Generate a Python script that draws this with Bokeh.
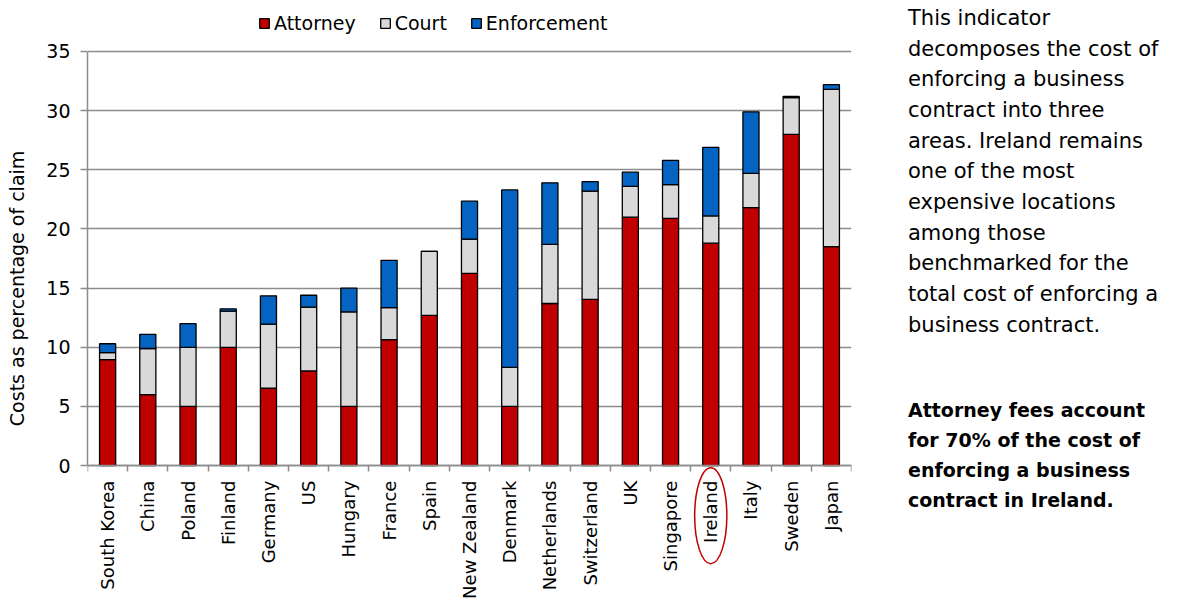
import numpy as np
from bokeh.plotting import figure
from bokeh.models import ColumnDataSource, Legend, LegendItem, Range1d, FixedTicker, Div
from bokeh.layouts import row
from bokeh.embed import file_html
from bokeh.resources import INLINE

countries = ["South Korea", "China", "Poland", "Finland", "Germany", "US", "Hungary", "France",
             "Spain", "New Zealand", "Denmark", "Netherlands", "Switzerland", "UK", "Singapore",
             "Ireland", "Italy", "Sweden", "Japan"]
attorney = [8.95, 6.0, 5.0, 10.0, 6.55, 8.0, 5.0, 10.65, 12.7, 16.25, 5.0, 13.7, 14.05, 21.0,
            20.9, 18.8, 21.8, 28.0, 18.5]
court = [0.6, 3.9, 5.0, 3.05, 5.4, 5.4, 8.0, 2.7, 5.4, 2.9, 3.3, 5.0, 9.15, 2.6, 2.85, 2.3,
         2.9, 3.1, 13.3]
enforcement = [0.75, 1.2, 2.0, 0.2, 2.4, 1.0, 2.0, 4.0, 0.0, 3.2, 15.0, 5.2, 0.8, 1.2, 2.05,
               5.8, 5.2, 0.1, 0.4]
series = ["Attorney", "Court", "Enforcement"]
colors = ["#C00000", "#D9D9D9", "#0563C1"]
y_ticks = [0, 5, 10, 15, 20, 25, 30, 35]
y_title = "Costs as percentage of claim"
highlight = "Ireland"

FONT = "DejaVu Sans"
GRAY = "#8c8c8c"

n = len(countries)
centers = [i + 0.5 for i in range(n)]      # category slot centres on the x scale
bounds = [float(i) for i in range(n + 1)]  # category slot boundaries (tick marks)

source = ColumnDataSource(dict(x=centers, country=countries, Attorney=attorney, Court=court,
                               Enforcement=enforcement))

# frame covers the whole figure height so that labels/legend/ellipse are never clipped
p = figure(x_range=Range1d(0, n), y_range=Range1d(-11.4, 39.31),
           frame_width=764, frame_height=600,
           min_border_left=87, min_border_right=17, min_border_top=0, min_border_bottom=0,
           output_backend="svg", toolbar_location=None)
p.outline_line_color = None
p.background_fill_color = "white"
p.border_fill_color = "white"

renderers = p.vbar_stack(series, x="x", width=0.4, color=colors, line_color="black",
                         line_width=1.3, source=source)

# y axis
yax = p.yaxis[0]
yax.ticker = FixedTicker(ticks=y_ticks)
yax.bounds = (y_ticks[0], y_ticks[-1])
yax.axis_line_color = GRAY
yax.axis_line_width = 1.5
yax.major_tick_line_color = GRAY
yax.major_tick_line_width = 1.5
yax.major_tick_out = 7
yax.major_tick_in = 0
yax.minor_tick_line_color = None
yax.major_label_text_font = FONT
yax.major_label_text_font_size = "19px"
yax.major_label_text_color = "black"
yax.major_label_standoff = 10
yax.axis_label = "\u00a0" * 4 + y_title
yax.axis_label_text_font = FONT
yax.axis_label_text_font_size = "19px"
yax.axis_label_text_font_style = "normal"
yax.axis_label_text_color = "black"
yax.axis_label_standoff = 15

p.ygrid.ticker = FixedTicker(ticks=y_ticks)
p.ygrid.grid_line_color = GRAY
p.ygrid.grid_line_width = 1.5
p.xgrid.visible = False

# x axis at y = 0: labels at slot centres, tick marks at slot boundaries
xax = p.xaxis[0]
xax.fixed_location = 0
xax.ticker = FixedTicker(ticks=centers, minor_ticks=bounds)
xax.major_label_overrides = {c: name for c, name in zip(centers, countries)}
xax.major_tick_line_color = None
xax.major_tick_out = 0
xax.major_tick_in = 0
xax.minor_tick_line_color = GRAY
xax.minor_tick_line_width = 1.5
xax.minor_tick_out = 6
xax.minor_tick_in = 0
xax.axis_line_color = GRAY
xax.axis_line_width = 1.5
xax.major_label_orientation = np.pi / 2
xax.major_label_standoff = 9
xax.major_label_text_font = FONT
xax.major_label_text_font_size = "18px"
xax.major_label_text_color = "black"

# legend (inside the extended frame, above the 35 gridline)
legend = Legend(items=[LegendItem(label=s, renderers=[r]) for s, r in zip(series, renderers)],
                location=(171, 566), orientation="horizontal",
                border_line_color=None, background_fill_alpha=0, padding=0, margin=0,
                spacing=23, label_standoff=4, glyph_width=12, glyph_height=12,
                label_text_font=FONT, label_text_font_size="19px", label_text_color="black",
                label_height=20)
p.add_layout(legend)

# ellipse around the highlighted country label
hi = countries.index(highlight)
p.ellipse(x=[centers[hi]], y=[-4.23], width=0.80, height=8.12,
          fill_color=None, line_color="#C00000", line_width=1.5)

text_html = (
    "<div style=\"font-family:'DejaVu Sans';font-size:21px;line-height:30.67px;color:#000;"
    "margin-top:-2px;padding-left:35px;white-space:nowrap;\">"
    "This indicator<br>decomposes the cost of<br>enforcing a business<br>contract into three<br>"
    "areas. Ireland remains<br>one of the most<br>expensive locations<br>among those<br>"
    "benchmarked for the<br>total cost of enforcing a<br>business contract.</div>"
    "<div style=\"font-family:'DejaVu Sans';font-size:19px;line-height:30px;font-weight:bold;"
    "color:#000;margin-top:55px;padding-left:35px;white-space:nowrap;\">"
    "Attorney fees account<br>for 70% of the cost of<br>enforcing a business<br>"
    "contract in Ireland.</div>"
)
div = Div(text=text_html, width=290, height=560)

layout = row(p, div)
open("out.html", "w").write(file_html(layout, INLINE))
